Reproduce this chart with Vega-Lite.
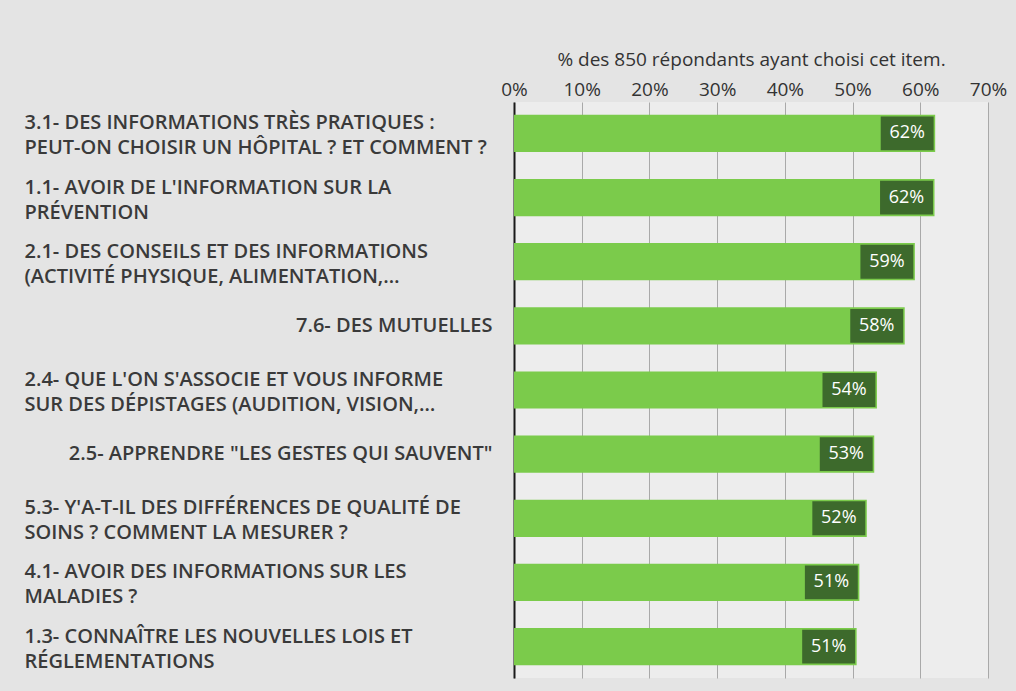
{
 "$schema": "https://vega.github.io/schema/vega-lite/v6.json",
 "width": 474,
 "height": 576,
 "autosize": {"type": "none"},
 "padding": {"left": 514, "top": 102, "right": 28, "bottom": 13},
 "background": "#e4e4e4",
 "config": {"view": {"stroke": null, "fill": "#ededed"}, "font": "Open Sans"},
 "data": {"values": [
  {"item": "3.1- DES INFORMATIONS TRÈS PRATIQUES :|PEUT-ON CHOISIR UN HÔPITAL ? ET COMMENT ?", "pct": 0.622},
  {"item": "1.1- AVOIR DE L'INFORMATION SUR LA|PRÉVENTION", "pct": 0.621},
  {"item": "2.1- DES CONSEILS ET DES INFORMATIONS|(ACTIVITÉ PHYSIQUE, ALIMENTATION,…", "pct": 0.592},
  {"item": "7.6- DES MUTUELLES", "pct": 0.577},
  {"item": "2.4- QUE L'ON S'ASSOCIE ET VOUS INFORME|SUR DES DÉPISTAGES (AUDITION, VISION,…", "pct": 0.536},
  {"item": "2.5- APPRENDRE \"LES GESTES QUI SAUVENT\"", "pct": 0.532},
  {"item": "5.3- Y'A-T-IL DES DIFFÉRENCES DE QUALITÉ DE|SOINS ? COMMENT LA MESURER ?", "pct": 0.521},
  {"item": "4.1- AVOIR DES INFORMATIONS SUR LES|MALADIES ?", "pct": 0.51},
  {"item": "1.3- CONNAÎTRE LES NOUVELLES LOIS ET|RÉGLEMENTATIONS", "pct": 0.506}
 ]},
 "encoding": {
  "y": {"field": "item", "type": "nominal", "sort": null, "scale": {"paddingInner": 0.42, "paddingOuter": 0.2}, "axis": null},
  "x": {"field": "pct", "type": "quantitative", "scale": {"domain": [0, 0.7]},
   "axis": {"orient": "top", "format": ".0%", "values": [0, 0.1, 0.2, 0.3, 0.4, 0.5, 0.6, 0.7],
    "title": "% des 850 répondants ayant choisi cet item.", "titleFontSize": 19, "titleFontWeight": "normal", "titleColor": "#333333", "titlePadding": 11,
    "labelFontSize": 19, "labelColor": "#333333", "ticks": false, "domain": false, "labelPadding": 3, "labelFlush": false,
    "gridColor": "#a9a9a9", "gridWidth": 1}}
 },
 "resolve": {"axis": {"y": "independent"}},
 "layer": [
  {"mark": {"type": "bar", "color": "#7bcb4b"},
   "encoding": {
    "y": {"field": "item", "type": "nominal", "sort": null,
     "axis": {"title": null, "orient": "left", "labelExpr": "indexof(datum.value,'|')<0 ? datum.value : ''", "labelAlign": "right", "labelPadding": 22, "ticks": false,
      "domainColor": "#1a1a1a", "domainWidth": 2, "labelFontSize": 20, "labelFontWeight": 600, "labelColor": "#3a3a3a", "labelLimit": 600}}
   }},
  {"mark": {"type": "point", "shape": "M-1,-0.64L1,-0.64L1,0.64L-1,0.64Z", "filled": true, "color": "#3d6a2c", "opacity": 1, "size": 2800, "xOffset": -28},
   "encoding": {
    "y": {"field": "item", "type": "nominal", "sort": null,
     "axis": {"title": null, "orient": "left", "labelExpr": "indexof(datum.value,'|')>=0 ? split(datum.value,'|') : ''", "labelAlign": "left", "labelPadding": 490, "ticks": false,
      "domain": false, "labelFontSize": 20, "labelFontWeight": 600, "labelColor": "#3a3a3a", "labelLimit": 600, "labelLineHeight": 25, "labelOffset": -10}}
   }},
  {"mark": {"type": "text", "color": "white", "fontSize": 18, "xOffset": -28},
   "encoding": {"text": {"field": "pct", "type": "quantitative", "format": ".0%"}}}
 ]
}
